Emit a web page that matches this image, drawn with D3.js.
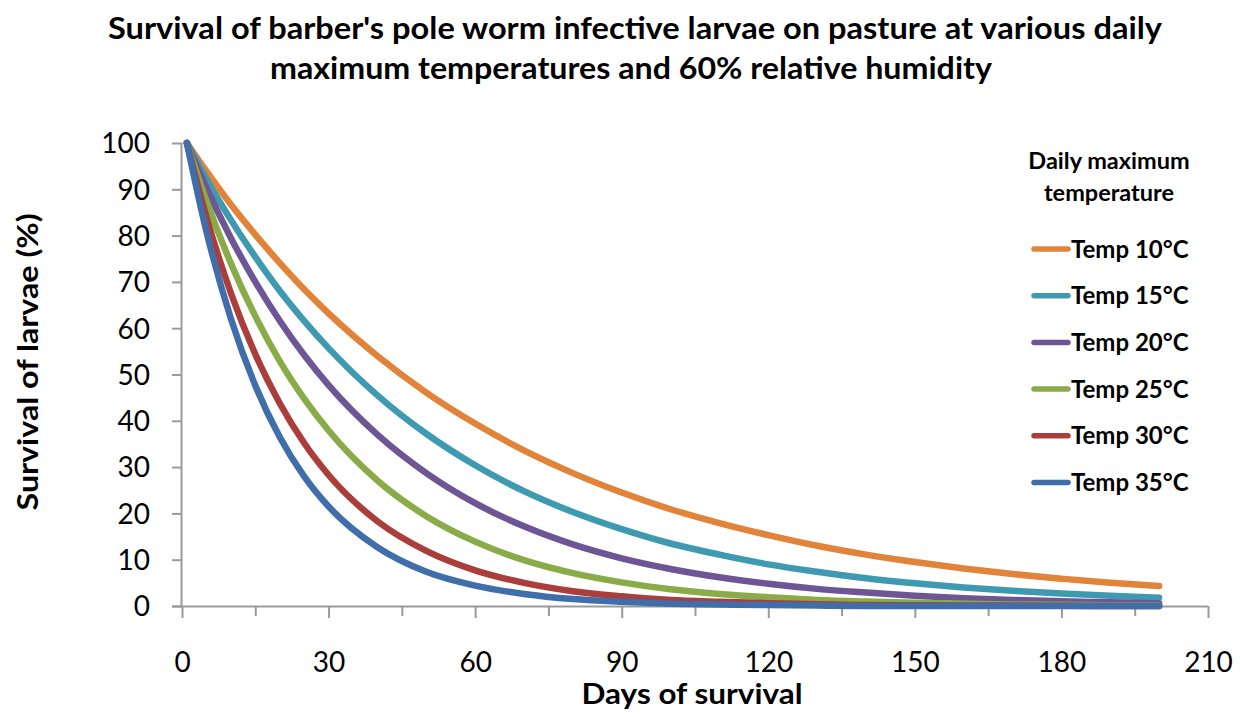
<!DOCTYPE html>
<html>
<head>
<meta charset="utf-8">
<script src="https://cdn.jsdelivr.net/npm/d3@7"></script>
<style>
  html, body { margin: 0; padding: 0; background: #ffffff; }
  svg { display: block; }
  text { font-family: Lato, "Open Sans", "DejaVu Sans", sans-serif; fill: #000; }
</style>
</head>
<body>
<svg id="chart" width="1240" height="717"></svg>
<script>
// ---- Data ----
const days = [1, 5, 10, 15, 20, 25, 30, 40, 50, 60, 70, 80, 90, 100, 110, 120, 130, 140, 150, 160, 170, 180, 190, 200];

const temp10 = [100, 93.9, 86.7, 80.2, 74.1, 68.4, 63.2, 54.0, 46.1, 39.4, 33.6, 28.7, 24.5, 20.9, 17.9, 15.3, 13.0, 11.1, 9.5, 8.1, 6.9, 5.9, 5.0, 4.3];
const temp15 = [100, 92.2, 83.4, 75.4, 68.1, 61.6, 55.7, 45.5, 37.2, 30.4, 24.8, 20.3, 16.6, 13.5, 11.1, 9.0, 7.4, 6.0, 4.9, 4.0, 3.3, 2.7, 2.2, 1.8];
const temp20 = [100, 90.3, 79.5, 70.0, 61.6, 54.2, 47.7, 37.0, 28.7, 22.2, 17.2, 13.3, 10.3, 8.0, 6.2, 4.8, 3.7, 2.9, 2.2, 1.7, 1.3, 1.0, 0.8, 0.6];
const temp25 = [100, 87.5, 74.0, 62.6, 52.9, 44.8, 37.9, 27.1, 19.4, 13.9, 9.9, 7.1, 5.1, 3.6, 2.6, 1.9, 1.3, 0.95, 0.7, 0.5, 0.35, 0.25, 0.18, 0.13];
const temp30 = [100, 84.0, 67.6, 54.4, 43.8, 35.2, 28.3, 18.3, 11.9, 7.7, 5.0, 3.2, 2.1, 1.3, 0.9, 0.6, 0.4, 0.2, 0.15, 0.1, 0.1, 0.05, 0.0, 0.0];
const temp35 = [100, 80.9, 62.1, 47.6, 36.5, 28.0, 21.5, 12.7, 7.4, 4.4, 2.6, 1.5, 0.9, 0.5, 0.3, 0.2, 0.1, 0.0, 0.0, 0.0, 0.0, 0.0, 0.0, 0.0];

const seriesNames = ["Temp 10°C", "Temp 15°C", "Temp 20°C", "Temp 25°C", "Temp 30°C", "Temp 35°C"];
const seriesValues = [temp10, temp15, temp20, temp25, temp30, temp35];
const seriesColors = ["#E2833A", "#3E9AB1", "#6D5596", "#89AB48", "#AB3D3A", "#3F6EAA"];

const xMajorTicks = [0, 30, 60, 90, 120, 150, 180, 210];
const xMinorTicks = [15, 45, 75, 105, 135, 165, 195];
const yTicks = [0, 10, 20, 30, 40, 50, 60, 70, 80, 90, 100];

const titleLines = ["Survival of barber's pole worm infective larvae on pasture at various daily",
                    "maximum temperatures and 60% relative humidity"];
const xTitle = "Days of survival";
const yTitle = "Survival of larvae (%)";
const legendTitle = ["Daily maximum", "temperature"];

// ---- Drawing ----
const svg = d3.select("#chart");
const x = d3.scaleLinear().domain([0, 210]).range([182, 1208]);
const y = d3.scaleLinear().domain([0, 100]).range([606, 143]);
const axisColor = "#9a9a9a";

// Title
svg.selectAll("text.title").data(titleLines).join("text")
  .attr("class", "title")
  .attr("x", (d, i) => i === 0 ? 635 : 631)
  .attr("y", (d, i) => 39 + i * 40)
  .attr("text-anchor", "middle")
  .attr("font-size", 31)
  .attr("font-weight", "bold")
  .attr("textLength", (d, i) => i === 0 ? 1054 : 722)
  .attr("lengthAdjust", "spacingAndGlyphs")
  .text(d => d);

// Y axis
const yAxis = svg.append("g").attr("transform", `translate(${x(0)},0)`)
  .call(d3.axisLeft(y).tickValues(yTicks).tickSize(10));
yAxis.selectAll("text").attr("font-size", 28).attr("x", -32).attr("dy", "0.35em")
  .style("font-family", "Lato, 'Open Sans', sans-serif").attr("fill", "#000");

// X axis major
const xAxis = svg.append("g").attr("transform", `translate(0,${y(0)})`)
  .call(d3.axisBottom(x).tickValues(xMajorTicks).tickSize(12));
xAxis.selectAll("text").attr("font-size", 28).attr("y", 56).attr("dy", "0.35em")
  .style("font-family", "Lato, 'Open Sans', sans-serif").attr("fill", "#000");
// X axis minor
const xMinor = svg.append("g").attr("transform", `translate(0,${y(0)})`)
  .call(d3.axisBottom(x).tickValues(xMinorTicks).tickSize(10).tickFormat(""));
xMinor.select(".domain").remove();

[yAxis, xAxis, xMinor].forEach(g => {
  g.select(".domain").attr("stroke", axisColor).attr("stroke-width", 2);
  g.selectAll(".tick line").attr("stroke", axisColor).attr("stroke-width", 2);
});
xAxis.select(".domain").attr("d", `M${x(0) - 10},0.5H${x(210)}`);
yAxis.select(".domain").attr("d", `M-0.5,${y(100)}V${y(0)}`);

// Lines
const line = d3.line().x((d, i) => x(days[i])).y(d => y(d)).curve(d3.curveMonotoneX);
svg.append("g").selectAll("path").data(seriesValues).join("path")
  .attr("d", d => line(d))
  .attr("fill", "none")
  .attr("stroke", (d, i) => seriesColors[i])
  .attr("stroke-width", 6.5)
  .attr("stroke-linecap", "round")
  .attr("stroke-linejoin", "round");

// Axis titles
svg.append("text").attr("x", 692).attr("y", 704).attr("text-anchor", "middle")
  .attr("font-size", 28).attr("font-weight", "bold")
  .attr("textLength", 221).attr("lengthAdjust", "spacingAndGlyphs").text(xTitle);
svg.append("text").attr("transform", "translate(38,362) rotate(-90)").attr("text-anchor", "middle")
  .attr("font-size", 28).attr("font-weight", "bold")
  .attr("textLength", 297).attr("lengthAdjust", "spacingAndGlyphs").text(yTitle);

// Legend
const lg = svg.append("g");
lg.selectAll("text.lt").data(legendTitle).join("text").attr("class", "lt")
  .attr("x", 1109).attr("y", (d, i) => 169 + i * 32)
  .attr("text-anchor", "middle").attr("font-size", 23.5).attr("font-weight", "bold").text(d => d);
const items = lg.selectAll("g.item").data(seriesNames).join("g").attr("class", "item")
  .attr("transform", (d, i) => `translate(0,${249 + i * 46.7})`);
items.append("line").attr("x1", 1034).attr("x2", 1068).attr("y1", 0).attr("y2", 0)
  .attr("stroke", (d, i) => seriesColors[i]).attr("stroke-width", 5.5).attr("stroke-linecap", "round");
items.append("text").attr("x", 1071).attr("y", 8.5).attr("font-size", 24).attr("font-weight", "bold").text(d => d);
</script>
</body>
</html>
